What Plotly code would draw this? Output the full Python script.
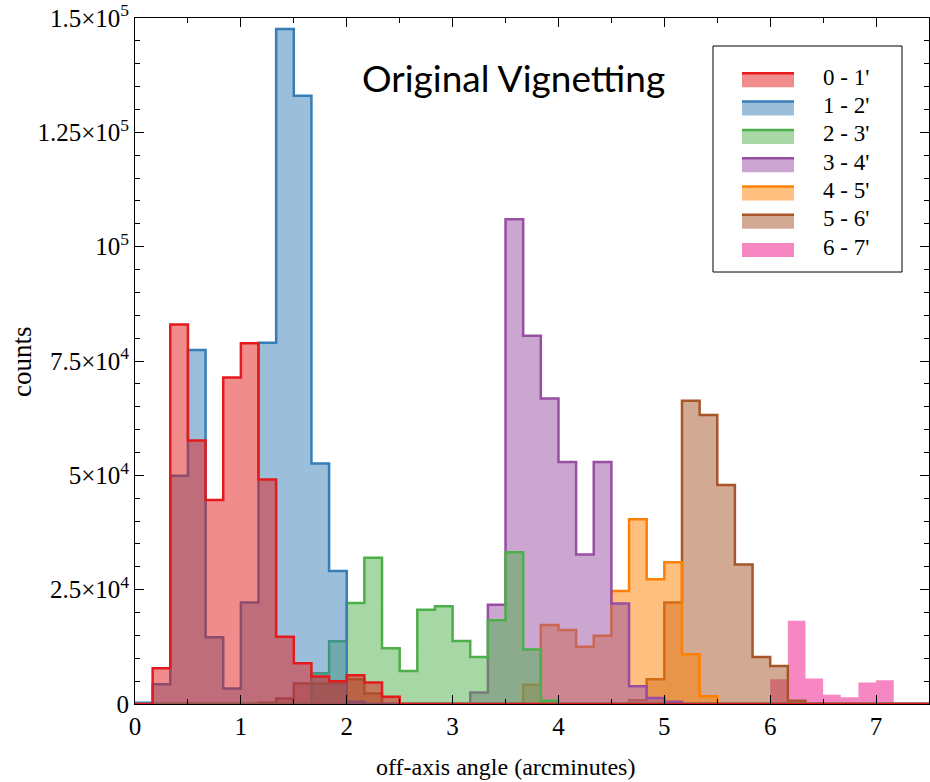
import numpy as np
import plotly.graph_objects as go

# Off-axis angle histograms, 10-arcsec bins (1/6 arcmin) from 0 to 7.5'
BIN_WIDTH = 1.0 / 6.0
N_BINS = 45
bin_edges = np.arange(N_BINS + 1) * BIN_WIDTH

series_names = ["0 - 1'", "1 - 2'", "2 - 3'", "3 - 4'", "4 - 5'", "5 - 6'", "6 - 7'"]

counts_0_1 = [0, 7800, 83000, 57600, 44600, 71400, 78900, 49100, 14700, 8900,
              6000, 5000, 6300, 4700, 1600, 0, 0, 0, 0, 0,
              0, 0, 0, 0, 0, 0, 0, 0, 0, 0,
              0, 0, 0, 0, 0, 0, 0, 0, 0, 0,
              0, 0, 0, 0, 0]
counts_1_2 = [300, 4300, 49900, 77400, 14600, 3400, 22200, 79000, 147600, 133000,
              52600, 29100, 500, 0, 0, 0, 0, 0, 0, 0,
              0, 0, 0, 0, 0, 0, 0, 0, 0, 0,
              0, 0, 0, 0, 0, 0, 0, 0, 0, 0,
              0, 0, 0, 0, 0]
counts_2_3 = [0, 0, 0, 0, 0, 0, 0, 0, 0, 0,
              6700, 13700, 22100, 32000, 12200, 7200, 20600, 21400, 13800, 10300,
              18300, 33200, 11900, 700, 0, 0, 0, 0, 0, 0,
              0, 0, 0, 0, 0, 0, 0, 0, 0, 0,
              0, 0, 0, 0, 0]
counts_3_4 = [0, 0, 0, 0, 0, 0, 0, 0, 0, 0,
              0, 0, 0, 0, 0, 0, 0, 0, 0, 2500,
              21700, 106000, 80500, 66800, 52900, 32700, 52900, 22000, 3900, 1300,
              500, 0, 0, 0, 0, 0, 0, 0, 0, 0,
              0, 0, 0, 0, 0]
counts_4_5 = [0, 0, 0, 0, 0, 0, 0, 0, 0, 0,
              0, 0, 0, 0, 0, 0, 0, 0, 0, 0,
              0, 0, 4200, 17300, 16200, 12500, 14900, 24700, 40400, 27300,
              31000, 10900, 1700, 0, 0, 0, 0, 0, 0, 0,
              0, 0, 0, 0, 0]
counts_5_6 = [0, 0, 0, 0, 0, 0, 0, 300, 1200, 4500,
              4500, 4500, 5400, 2300, 0, 0, 0, 0, 0, 0,
              0, 0, 0, 0, 0, 0, 0, 0, 800, 5400,
              22200, 66300, 63200, 47900, 30500, 10300, 8300, 700, 0, 0,
              0, 0, 0, 0, 0]
counts_6_7 = [0, 0, 0, 0, 0, 0, 0, 0, 0, 0,
              0, 0, 0, 0, 0, 0, 0, 0, 0, 0,
              0, 0, 0, 0, 0, 0, 0, 0, 0, 0,
              0, 0, 0, 0, 0, 0, 5400, 18200, 5600, 2000,
              1500, 4700, 5200, 0, 0]

all_counts = [counts_0_1, counts_1_2, counts_2_3, counts_3_4, counts_4_5, counts_5_6, counts_6_7]

line_colors = ["#e41a1c", "#377eb8", "#4daf4a", "#984ea3", "#ff7f00", "#a65628", "rgba(0,0,0,0)"]
fill_colors = ["rgba(228,26,28,0.5)", "rgba(55,126,184,0.5)", "rgba(77,175,74,0.5)",
               "rgba(152,78,163,0.5)", "rgba(255,127,0,0.5)", "rgba(166,86,40,0.5)",
               "rgba(247,129,191,0.95)"]
has_outline = [True, True, True, True, True, True, False]

y_tick_vals = [0, 25000, 50000, 75000, 100000, 125000, 150000]
y_tick_text = ["0", "2.5×10<sup>4</sup>", "5×10<sup>4</sup>", "7.5×10<sup>4</sup>",
               "10<sup>5</sup>", "1.25×10<sup>5</sup>", "1.5×10<sup>5</sup>"]
x_tick_vals = [0, 1, 2, 3, 4, 5, 6, 7]

W, H = 930, 782
ML, MR, MT, MB = 135, 1, 18, 78
PW, PH = W - ML - MR, H - MT - MB

SERIF = "Liberation Serif, Times New Roman, serif"


def fx(px):
    return (px - ML) / PW


def fy(py):
    return (H - MB - py) / PH


fig = go.Figure()

# Outermost annulus first so the inner ones sit on top
for i in reversed(range(len(all_counts))):
    vals = list(all_counts[i]) + [all_counts[i][-1]]
    fig.add_trace(go.Scatter(
        x=bin_edges, y=vals, mode="lines", line_shape="hv",
        line=dict(color=line_colors[i], width=2.5 if has_outline[i] else 0.1),
        fill="tozeroy", fillcolor=fill_colors[i],
        name=series_names[i], showlegend=False,
    ))

shapes = []
annotations = []

# Legend box
shapes.append(dict(type="rect", xref="paper", yref="paper",
                   x0=fx(713), x1=fx(902), y0=fy(272), y1=fy(46),
                   line=dict(color="black", width=1), fillcolor="white", layer="above"))
for i, name in enumerate(series_names):
    top = 73.3 + i * 28.3
    shapes.append(dict(type="rect", xref="paper", yref="paper",
                       x0=fx(742), x1=fx(794), y0=fy(top + 14), y1=fy(top),
                       line=dict(width=0), fillcolor=fill_colors[i], layer="above"))
    if has_outline[i]:
        shapes.append(dict(type="line", xref="paper", yref="paper",
                           x0=fx(742), x1=fx(794), y0=fy(top), y1=fy(top),
                           line=dict(color=line_colors[i], width=2.5), layer="above"))
    annotations.append(dict(xref="paper", yref="paper", x=fx(821), y=fy(top + 4),
                            xanchor="left", yanchor="middle", showarrow=False,
                            text=name, font=dict(family=SERIF, size=23, color="black")))

annotations.append(dict(xref="paper", yref="paper", x=fx(513), y=fy(77),
                        xanchor="center", yanchor="middle", showarrow=False,
                        text="Original Vignetting",
                        font=dict(family="Lato, sans-serif", size=37, color="black")))
annotations.append(dict(xref="paper", yref="paper", x=fx(505), y=fy(767),
                        xanchor="center", yanchor="middle", showarrow=False,
                        text="off-axis angle (arcminutes)",
                        font=dict(family=SERIF, size=24, color="black")))
annotations.append(dict(xref="paper", yref="paper", x=fx(22), y=fy(362),
                        xanchor="center", yanchor="middle", showarrow=False,
                        text="counts", textangle=-90,
                        font=dict(family=SERIF, size=27, color="black")))

axis_common = dict(showline=True, linecolor="black", linewidth=1, mirror="allticks",
                   ticks="inside", tickcolor="black", tickwidth=1, ticklen=9,
                   showgrid=False, zeroline=False,
                   tickfont=dict(family=SERIF, size=25, color="black"))

fig.update_layout(
    width=W, height=H,
    margin=dict(l=ML, r=MR, t=MT, b=MB, pad=0),
    paper_bgcolor="white", plot_bgcolor="white",
    showlegend=False,
    shapes=shapes, annotations=annotations,
    xaxis=dict(range=[0, 7.5], tickvals=x_tick_vals,
               minor=dict(dtick=0.5, ticks="inside", ticklen=5, tickcolor="black", showgrid=False),
               **axis_common),
    yaxis=dict(range=[0, 150000], tickvals=y_tick_vals, ticktext=y_tick_text,
               minor=dict(dtick=5000, ticks="inside", ticklen=5, tickcolor="black", showgrid=False),
               **axis_common),
)

fig.write_html("out.html")
